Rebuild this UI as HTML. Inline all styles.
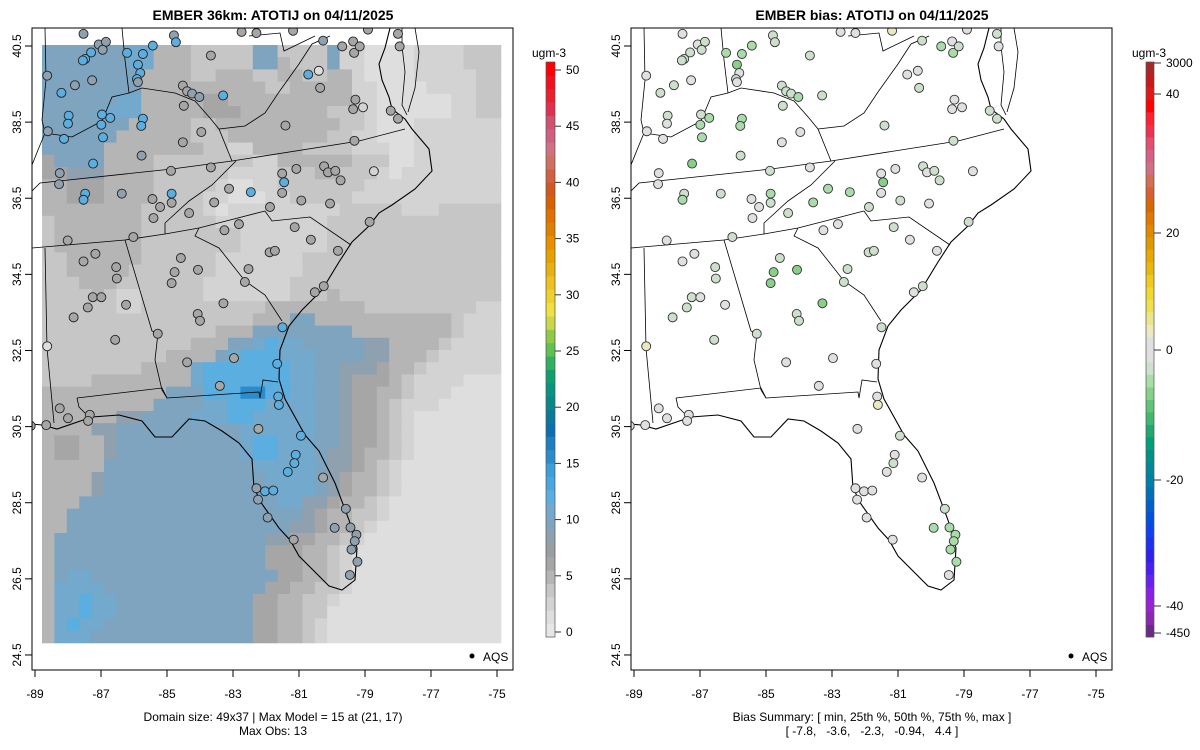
<!DOCTYPE html>
<html><head><meta charset="utf-8"><style>
html,body{margin:0;padding:0;background:#fff;}
svg{display:block;font-family:"Liberation Sans",sans-serif;}
</style></head><body>
<svg id="svg" width="1200" height="750" viewBox="0 0 1200 750" xmlns="http://www.w3.org/2000/svg">
<defs>
<clipPath id="clipL"><rect x="32" y="28" width="481" height="642"/></clipPath>
<clipPath id="clipR"><rect x="631" y="28" width="481" height="642"/></clipPath>
</defs>
<text x="273" y="20" text-anchor="middle" font-weight="bold" font-size="14">EMBER 36km: ATOTIJ on 04/11/2025</text>
<text x="872" y="20" text-anchor="middle" font-weight="bold" font-size="14">EMBER bias: ATOTIJ on 04/11/2025</text>
<g id="panelL" clip-path="url(#clipL)"></g>
<g id="panelR" clip-path="url(#clipR)"></g>
<g id="axes"></g>
<text x="273" y="721" text-anchor="middle" font-size="12">Domain size: 49x37 | Max Model = 15 at (21, 17)</text>
<text x="273" y="735" text-anchor="middle" font-size="12">Max Obs: 13</text>
<text x="872" y="721" text-anchor="middle" font-size="12">Bias Summary: [ min, 25th %, 50th %, 75th %, max ]</text>
<text x="872" y="735" text-anchor="middle" font-size="12" xml:space="preserve">[ -7.8,   -3.6,   -2.3,   -0.94,   4.4 ]</text>
</svg>
<script>
// ---- data ----
const gridRows = [
"7777777884443333377333372211112222333",
"7777777884443333377433372211112222333",
"7777777744443344433443344211112222233",
"7777777744444444443344444221111222233",
"7777778844444554444444444221111112233",
"7777788844444555444444433321111112233",
"7777777444443344444444443321112222222",
"7777774444443334444444433221112222222",
"7777744444444332244443333222112222222",
"5777744443333333322444444333112222222",
"5566644443333332222333443332122222222",
"4455544443333321122333333322222222222",
"4455544443333221112233333222222222222",
"4444444433333212222222223333322233333",
"3444444433333322222222233333333333333",
"3444444433333333222222233333333333333",
"3444444433333333222222233333333333333",
"3344444433333322222223333333333333333",
"3344444333333322222223333333333333333",
"3334443333333222222233333333333333333",
"3333432233333222222233343333333333333",
"3333332233333333334444444433333333322",
"3333333333333333344477444444444443222",
"3333333333333344477777777444444443222",
"3333333333334447789887777766444432222",
"3333333333444478999888777766444322222",
"3333333344448999999988776665443222222",
"3333444444448999999988776555432222111",
"4444444444777999BB9988776554432221111",
"4444444447777889998888776554322211111",
"4444446677778889988888776554321111111",
"4444667777777777888888776554321111111",
"4554467777777777899888776554321111111",
"4554467777777777899888766544321111111",
"4444477777777777788888766543211111111",
"4444677777777777778888765443211111111",
"4444677777777777777888765443211111111",
"4447777777777777777886654432111111111",
"4477777777777777777776544332111111111",
"4477777777777777777766544321111111111",
"4777777777777777776655443211111111111",
"4777777777777777775554432111111111111",
"4777777777777777775554432111111111111",
"4788777777777777777554432111111111111",
"4888877777777777775544332111111111111",
"4889887777777777755443321111111111111",
"4889887777777777755443311111111111111",
"4898877777777777755443211111111111111",
"4888777777777777755443211111111111111"];
const levelValues = {"0":0,"1":1,"2":2,"3":3.3,"4":4.6,"5":5.9,"6":8.2,"7":9.5,"8":10.8,"9":12,"A":14.4,"B":15.5};
const stationLon = [-87.53,-87.07,-86.85,-86.95,-87.30,-87.48,-87.55,-86.21,-85.73,-85.43,-84.79,-84.73,-85.88,-85.81,-85.91,-85.88,-83.67,-88.63,-88.20,-87.79,-87.27,-84.52,-84.39,-84.24,-84.02,-83.30,-84.49,-87.98,-88.00,-86.97,-86.72,-86.99,-85.73,-85.78,-88.61,-88.12,-86.94,-83.96,-84.52,-85.77,-87.24,-88.25,-88.27,-84.88,-83.67,-87.48,-87.53,-86.37,-85.44,-85.21,-84.86,-84.86,-85.41,-84.33,-83.57,-83.12,-82.46,-81.51,-81.08,-81.45,-81.51,-80.93,-80.24,-80.12,-79.90,-79.74,-78.73,-80.06,-81.88,-79.32,-81.41,-80.72,-80.40,-80.36,-79.29,-79.06,-79.36,-78.22,-78.00,-80.27,-79.69,-79.36,-79.33,-79.16,-77.95,-78.00,-78.91,-82.74,-82.29,-81.18,-88.01,-86.02,-83.26,-82.82,-81.13,-80.64,-81.89,-81.73,-79.82,-78.86,-82.53,-82.64,-80.52,-80.25,-81.50,-87.53,-87.17,-86.54,-86.52,-84.58,-84.77,-84.06,-84.86,-83.29,-84.07,-84.00,-87.25,-86.99,-87.40,-86.24,-87.83,-86.57,-85.28,-88.63,-84.39,-82.97,-83.40,-81.66,-81.63,-81.61,-88.25,-88.00,-87.34,-87.39,-88.66,-89.13,-82.23,-80.94,-81.10,-81.14,-81.34,-80.27,-82.29,-82.03,-81.78,-82.24,-81.95,-79.58,-79.92,-79.44,-79.26,-79.31,-79.41,-79.23,-79.46,-81.16];
const stationLat = [40.82,40.54,40.61,40.40,40.33,40.16,40.12,40.32,40.29,40.51,40.78,40.60,40.01,39.79,39.63,39.55,40.25,39.72,39.27,39.47,39.60,39.46,39.31,39.25,39.16,39.20,38.93,38.67,38.46,38.70,38.61,38.43,38.59,38.40,38.26,38.06,38.10,38.24,37.97,37.62,37.41,37.16,36.87,37.22,37.31,36.62,36.46,36.62,36.48,36.27,36.62,36.38,35.98,36.11,36.39,36.75,36.66,37.15,37.27,36.92,36.64,36.44,37.34,37.18,37.22,36.97,37.21,36.36,36.27,38.01,38.41,39.75,39.85,39.40,39.09,38.89,38.84,38.80,38.59,40.64,40.49,40.62,40.32,40.49,40.49,40.82,40.93,40.87,40.84,40.90,35.39,35.48,35.66,35.82,35.74,35.41,35.08,35.12,35.12,35.88,34.64,34.30,34.03,34.19,33.11,34.84,35.04,34.69,34.39,34.93,34.56,34.62,34.27,33.74,33.46,33.28,33.90,33.90,33.63,33.70,33.37,32.78,32.94,32.61,32.19,32.30,31.57,32.15,31.29,31.07,30.98,30.72,30.81,30.65,30.54,30.52,30.44,30.26,29.76,29.54,29.31,29.16,28.88,28.80,28.82,28.58,28.11,28.34,27.84,27.85,27.66,27.49,27.27,26.95,26.60,27.53];
const stationObs = [8,8,8,8,12,12,12,12,12,12,8,12,12,12,12,8,6,8,12,8,8,6,6,8,8,12,6,12,12,12,12,12,12,12,8,12,12,6,6,8,12,8,8,6,6,12,12,8,6,6,12,6,6,6,6,6,12,6,6,12,6,6,6,6,6,6,2,6,6,6,6,12,1,6,6,2,6,6,6,8,6,6,6,6,6,6,6,6,6,6,6,6,6,6,6,6,6,6,6,6,6,6,6,6,12,6,6,6,6,6,6,6,6,6,6,6,6,6,6,6,6,6,6,1,6,6,6,12,12,12,6,6,6,6,6,6,6,12,12,12,12,6,8,12,12,8,8,8,8,8,8,8,8,8,8,6];
const stationBias = [-1,-1,-3,-3,-3,-3,-3,-5,-5,-5,-3,-3,-7,-1,-3,-1,-3,-1,-3,-3,-1,-3,-3,-3,-5,-3,-3,-3,-1,-3,-5,-5,-5,-5,-1,-1,-5,-1,-1,-3,-7,-1,-1,-3,-1,-3,-5,-3,-1,-1,-5,-3,-1,-3,-5,-5,-5,-1,-1,-7,-1,-3,-3,-1,-3,-3,-1,-1,-3,-3,-3,-1,-1,-3,-1,-1,-1,-3,-3,-3,-5,-1,-5,-3,-1,-3,-1,-1,-1,3,-1,-3,-1,-1,-3,-1,-3,-3,-1,-3,-3,-3,-1,-3,-3,-1,-1,-3,-3,-3,-7,-7,-7,-7,-3,-3,-3,-1,-3,-1,-3,-3,-3,3,-1,-1,-1,-1,-1,3,-1,-1,-1,-1,-1,-1,-1,-3,-1,-3,-1,-1,-1,-1,-1,-1,-1,-3,-5,-5,-5,-5,-5,-5,-1,-1];
const xTicks = [-89,-87,-85,-83,-81,-79,-77,-75];
const yTicks = [40.5,38.5,36.5,34.5,32.5,30.5,28.5,26.5,24.5];
const concTicks = [0,5,10,15,20,25,30,35,40,45,50];
const biasTicks = [3000,40,20,0,-20,-40,-450];
const concColors = ["#e6e6e6","#dedede","#d3d3d3","#c6c6c6","#b5b5b5","#a6a6a6","#9a9ea3","#8fa0ae","#7ea4bf","#72a9cc","#5aaee0","#4aa6e0","#3d9ed9","#2b8ccc","#1b7fc2","#0a70b0","#0a7a9a","#0a8888","#099480","#10a070","#30b060","#60c050","#90c848","#c8d848","#f0e040","#f0d030","#f0c020","#e8b010","#e8a000","#e89000","#e08000","#e07000","#d86000","#d05820","#d06040","#d07060","#d07080","#d06080","#d05070","#e03050","#e82030","#f01020","#ff0000"];
const biasColors = ["#6a2a8a","#8a28b0","#9a22d0","#8a20e8","#6a20f0","#4a20f0","#3020f0","#2030f0","#1040f0","#0050e0","#0060c8","#0070b8","#0080a8","#008898","#009088","#00a078","#20a870","#40b870","#60c478","#88d088","#a8dca8","#cce0cc","#e0e0e0","#e0e0e0","#ece8c0","#ece68a","#f0e050","#f0d830","#f0c820","#e8b810","#e8a800","#e09800","#e08800","#e07800","#d86800","#d86030","#d07050","#d07080","#d86088","#e05070","#f03050","#ff2030","#ff0000","#e01818","#c81818","#a82828"];

// ---- basemap geometry (left panel pixel coords) ----
const coast = [[32,424],[42,425],[57,429],[92,417],[119,415],[142,421],[155,437],[172,437],[189,419],[205,421],[222,431],[239,443],[252,459],[254,488],[262,504],[279,528],[290,540],[299,556],[315,572],[329,586],[342,590],[355,580],[357,548],[349,520],[335,483],[319,451],[305,435],[285,399],[279,379],[280,350],[289,326],[302,310],[322,290],[339,262],[352,242],[369,226],[379,213],[392,205],[415,189],[432,171],[429,149],[412,129],[405,119],[392,109],[389,97],[382,80],[379,64],[385,48],[390,28]];
const borders = [
 [[402,28],[402,46],[405,72],[402,105],[407,115]],
 [[415,28],[419,52],[415,88],[408,112]],
 [[45,28],[46,80],[42,120],[45,133],[38,150],[32,165]],
 [[45,133],[72,137],[102,121],[112,97],[129,93],[142,88],[175,93],[195,101]],
 [[122,28],[125,60],[129,93]],
 [[195,101],[210,118],[219,129],[232,161]],
 [[219,129],[245,126],[265,113],[279,92],[299,64],[312,44],[330,36]],
 [[32,191],[40,183],[172,169],[232,161],[359,141],[405,129]],
 [[236,161],[212,185],[189,201],[165,223],[165,234]],
 [[32,248],[125,240],[165,234],[199,228],[265,211]],
 [[265,211],[272,221],[310,217],[351,245]],
 [[199,228],[195,236],[219,248],[245,281],[265,295],[282,321]],
 [[125,240],[152,331],[158,333],[155,360],[162,390],[167,398]],
 [[45,248],[47,348],[54,423]],
 [[77,398],[162,388],[167,398],[259,392],[260,398],[263,380],[278,382]],
 [[77,398],[79,407],[85,413],[90,417]],
 [[249,36],[280,33],[284,51],[315,36]]
];

// ---- scales ----
const X0 = 35, PXDEG = 33.0, Y0 = 46, PYDEG = 38.06;
function xScale(lon){ return X0 + (lon + 89) * PXDEG; }
function yScale(lat){ return Y0 + (40.5 - lat) * PYDEG; }
const GX0 = 42, GY0 = 45, CW = 12.4, CH = 12.2;
function colX(c){ return GX0 + c * CW; }
function rowY(r){ return GY0 + r * CH; }
function concColor(v){ let i = Math.floor((v + 0.45) / 1.19); i = Math.max(0, Math.min(concColors.length - 1, i)); return concColors[i]; }
function biasColor(v){ let i = Math.floor((v + 46) / 2); i = Math.max(0, Math.min(biasColors.length - 1, i)); return biasColors[i]; }
function concY(v){ return 632 - v * 11.24; }
const biasAnchorV = [-450,-40,-20,0,20,40,3000];
const biasAnchorY = [633,606,480,350,233,94,63];
function biasY(v){
  for (let i = 0; i < biasAnchorV.length - 1; i++) {
    if (v >= biasAnchorV[i] && v <= biasAnchorV[i+1]) {
      const t = (v - biasAnchorV[i]) / (biasAnchorV[i+1] - biasAnchorV[i]);
      return biasAnchorY[i] + t * (biasAnchorY[i+1] - biasAnchorY[i]);
    }
  }
  return v < 0 ? 633 : 63;
}

const NS = "http://www.w3.org/2000/svg";
function mk(tag, attrs, parent){ const e = document.createElementNS(NS, tag); for (const k in attrs) e.setAttribute(k, attrs[k]); parent.appendChild(e); return e; }
const pL = document.getElementById('panelL');
const pR = document.getElementById('panelR');
const axes = document.getElementById('axes');

// grid
const gGrid = mk('g', {}, pL);


gridRows.forEach((row, r) => {
  for (let c = 0; c < 37; c++) {
    const ch = row[c] || row[row.length - 1];
    const cell = mk('rect', {x: colX(c), y: rowY(r), width: CW + 0.5, height: CH + 0.5, fill: concColor(levelValues[ch])}, gGrid);
    
    
  }
});

function drawBase(parent, dx, name){
  const g = mk('g', {fill: 'none', stroke: '#000', 'stroke-width': 0.8, transform: 'translate(' + dx + ',0)'}, parent);
  
  
  const c = mk('polyline', {points: coast.map(p => p.join(',')).join(' '), 'stroke-width': 1.1}, g);
  
  
  borders.forEach(b => {
    const l = mk('polyline', {points: b.map(p => p.join(',')).join(' ')}, g);
    
    
  });
}
drawBase(pL, 0, 'left-basemap');
drawBase(pR, 599, 'right-basemap');

// stations
for (let i = 0; i < stationLon.length; i++) {
  const x = xScale(stationLon[i]), y = yScale(stationLat[i]);
  const a = mk('circle', {cx: x, cy: y, r: 4.5, fill: concColor(stationObs[i]), stroke: '#222', 'stroke-width': 0.9}, pL);
  
  
  const b = mk('circle', {cx: x + 599, cy: y, r: 4.5, fill: biasColor(stationBias[i]), stroke: '#333', 'stroke-width': 0.9}, pR);
  
  
}

// frames, axes
[0, 599].forEach((dx, k) => {
  const f = mk('rect', {x: 32 + dx, y: 28, width: 481, height: 642, fill: 'none', stroke: '#000', 'stroke-width': 1}, axes);
  
  
  xTicks.forEach(t => {
    const x = xScale(t) + dx;
    const tl = mk('line', {x1: x, y1: 670, x2: x, y2: 677, stroke: '#000'}, axes);
    
    
    const tx = mk('text', {x: x, y: 698, 'text-anchor': 'middle', 'font-size': 12}, axes);
    tx.textContent = t;
    
    
  });
  yTicks.forEach(t => {
    const y = yScale(t);
    const tl = mk('line', {x1: 32 + dx, y1: y, x2: 25 + dx, y2: y, stroke: '#000'}, axes);
    
    
    const tx = mk('text', {x: 0, y: 0, 'text-anchor': 'middle', 'font-size': 12, transform: 'translate(' + (21 + dx) + ',' + y + ') rotate(-90)'}, axes);
    tx.textContent = t.toFixed(1);
    
    
  });
  const d = mk('circle', {cx: 472 + dx, cy: 656, r: 2.5, fill: '#000'}, axes);
  
  
  const lt = mk('text', {x: 483 + dx, y: 661, 'font-size': 12}, axes);
  lt.textContent = 'AQS';
  
  
});

// colorbars
const cbL = mk('g', {}, axes);


const nL = concColors.length, hL = 575 / nL;
concColors.forEach((c, i) => { const r = mk('rect', {x: 546, y: 637 - (i + 1) * hL, width: 9, height: hL + 0.4, fill: c}, cbL);   });
mk('rect', {x: 546, y: 62, width: 9, height: 575, fill: 'none', stroke: '#555', 'stroke-width': 0.7}, cbL);
concTicks.forEach(t => {
  const y = concY(t);
  mk('line', {x1: 555, y1: y, x2: 561, y2: y, stroke: '#333'}, cbL);
  const tx = mk('text', {x: 566, y: y + 4, 'font-size': 12}, cbL);
  tx.textContent = t;
  
  
});
const ul = mk('text', {x: 549, y: 57, 'text-anchor': 'middle', 'font-size': 12}, cbL);
ul.textContent = 'ugm-3';



const cbR = mk('g', {}, axes);


const nR = biasColors.length, hR = 575 / nR;
biasColors.forEach((c, i) => { const r = mk('rect', {x: 1146, y: 637 - (i + 1) * hR, width: 8, height: hR + 0.4, fill: c}, cbR);   });
mk('rect', {x: 1146, y: 62, width: 8, height: 575, fill: 'none', stroke: '#555', 'stroke-width': 0.7}, cbR);
biasTicks.forEach(t => {
  const y = biasY(t);
  mk('line', {x1: 1154, y1: y, x2: 1161, y2: y, stroke: '#333'}, cbR);
  const tx = mk('text', {x: 1166, y: y + 4, 'font-size': 12}, cbR);
  tx.textContent = t;
  
  
});
const ur = mk('text', {x: 1149, y: 57, 'text-anchor': 'middle', 'font-size': 12}, cbR);
ur.textContent = 'ugm-3';


</script>
</body></html>
